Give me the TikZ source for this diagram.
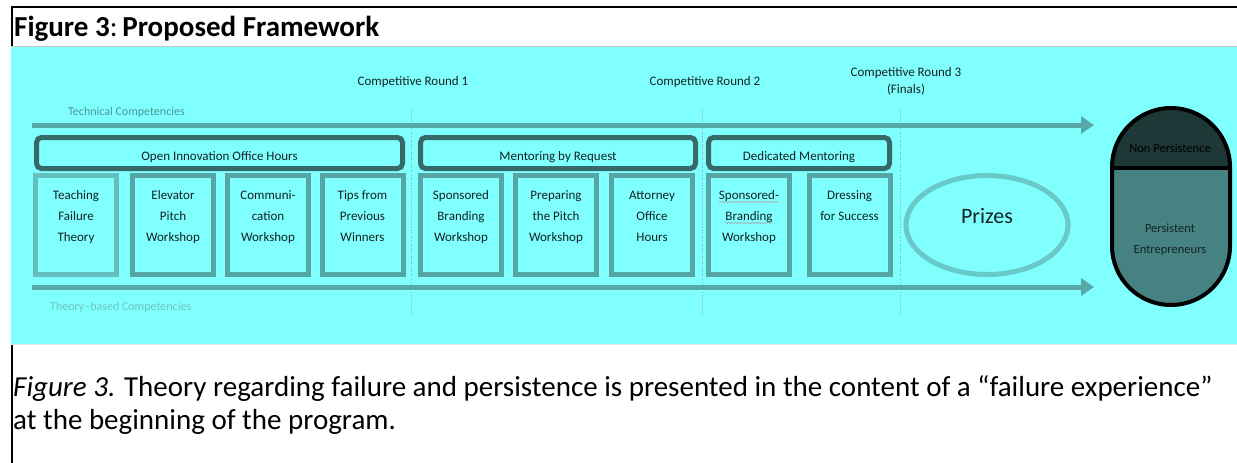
\documentclass[tikz,border=0pt]{standalone}
\usepackage{fontspec}
\setmainfont{Carlito}
\usetikzlibrary{arrows.meta,decorations.pathmorphing,shapes.geometric}
\definecolor{bgcyan}{RGB}{128,255,255}
\definecolor{arrowc}{RGB}{88,168,168}
\definecolor{hdrc}{RGB}{55,105,105}
\definecolor{boxc}{RGB}{85,165,165}
\definecolor{boxlc}{RGB}{100,190,190}
\definecolor{ellc}{RGB}{105,200,200}
\definecolor{techc}{RGB}{80,150,150}
\definecolor{theoc}{RGB}{110,195,195}
\definecolor{capdark}{RGB}{30,55,55}
\definecolor{capmid}{RGB}{70,130,130}
\definecolor{txtc}{RGB}{20,35,35}
\definecolor{vlinec}{RGB}{140,170,170}
\tikzset{
  hdrbox/.style={draw=hdrc, line width=5pt, rounded corners=5pt, fill=bgcyan, minimum height=31pt, inner sep=0pt},
  hdrtxt/.style={font=\fontsize{13}{16}\selectfont, text=txtc, inner sep=0pt},
  actbox/.style={draw=boxc, line width=5pt, fill=bgcyan, minimum width=81pt, minimum height=99pt, inner sep=0pt},
  acttxt/.style={font=\fontsize{13}{21}\selectfont, text=txtc, align=center, anchor=north, inner sep=0pt},
  roundtxt/.style={font=\fontsize{13}{17}\selectfont, text=txtc, align=center, inner sep=0pt},
  flowarrow/.style={draw=arrowc, line width=5pt, -{Triangle[length=13pt,width=17pt]}},
  vline/.style={draw=vlinec, line width=0.6pt, dotted},
  squig/.style={draw=gray!70, line width=0.5pt, decorate, decoration={snake, amplitude=0.7pt, segment length=3pt}}
}
\begin{document}
\begin{tikzpicture}[x=1pt,y=-1pt]
\useasboundingbox (0,0) rectangle (1237,463);
% frame lines
\draw[black, line width=2pt] (12,463) -- (12,7) -- (1237,7);
% cyan panel
\fill[bgcyan] (11,46) rectangle (1237,344);
\draw[gray!45, line width=1pt] (11,46) -- (1237,46);
\draw[gray!20, line width=1pt] (11,344.5) -- (1237,344.5);
% title
\node[anchor=base west, inner sep=0pt, font=\fontsize{29}{31}\selectfont] (title) at (14,36) {\textbf{Figure 3}:\,\textbf{Proposed Framework}};
% round labels
\node[roundtxt] (r1) at (413,82) {Competitive Round 1};
\node[roundtxt] (r2) at (705,82) {Competitive Round 2};
\node[roundtxt] (r3) at (906,81) {Competitive Round 3\\(Finals)};
% dotted separators
\coordinate (v1a) at (411.5,110); \coordinate (v1b) at (411.5,315);
\coordinate (v2a) at (702.5,110); \coordinate (v2b) at (702.5,315);
\coordinate (v3a) at (900,110); \coordinate (v3b) at (900,315);
\draw[vline] (v1a) -- (v1b);
\draw[vline] (v2a) -- (v2b);
\draw[vline] (v3a) -- (v3b);
% competency arrows
\node[anchor=west, inner sep=0pt, font=\fontsize{12}{14}\selectfont, text=techc] (tech) at (68,112) {Technical Competencies};
\node[anchor=west, inner sep=0pt, font=\fontsize{12}{14}\selectfont, text=theoc] (theo) at (50,307) {Theory--based Competencies};
\coordinate (ta) at (32,125); \coordinate (tb) at (1094,125);
\coordinate (ba) at (32,287); \coordinate (bb) at (1094,287);
\draw[flowarrow] (ta) -- (tb);
\draw[flowarrow] (ba) -- (bb);
% headers
\node[hdrbox, minimum width=366pt] (h1) at (219.5,153) {};
\node[hdrbox, minimum width=275pt] (h2) at (558,153) {};
\node[hdrbox, minimum width=181pt] (h3) at (799,153) {};
\node[hdrtxt] (h1t) at (219.5,157) {Open Innovation Office Hours};
\node[hdrtxt] (h2t) at (558,157) {Mentoring by Request};
\node[hdrtxt] (h3t) at (799,157) {Dedicated Mentoring};
% activity boxes
\node[actbox, draw=boxlc] (b1) at (76,225) {};
\node[actbox] (b2) at (173,225) {};
\node[actbox] (b3) at (268,225) {};
\node[actbox] (b4) at (362.5,225) {};
\node[actbox] (b5) at (461,225) {};
\node[actbox] (b6) at (556,225) {};
\node[actbox] (b7) at (652,225) {};
\node[actbox] (b8) at (749,225) {};
\node[actbox] (b9) at (849.5,225) {};
\node[acttxt] (t1) at (76,184.8) {\strut Teaching\\Failure\\Theory};
\node[acttxt] (t2) at (173,184.8) {\strut Elevator\\Pitch\\Workshop};
\node[acttxt] (t3) at (268,184.8) {\strut Communi-\\cation\\Workshop};
\node[acttxt] (t4) at (362.5,184.8) {\strut Tips from\\Previous\\Winners};
\node[acttxt] (t5) at (461,184.8) {\strut Sponsored\\Branding\\Workshop};
\node[acttxt] (t6) at (556,184.8) {\strut Preparing\\the Pitch\\Workshop};
\node[acttxt] (t7) at (652,184.8) {\strut Attorney\\Office\\Hours};
\node[acttxt] (t8) at (749,184.8) {\strut Sponsored-\\Branding\\Workshop};
\node[acttxt] (t9) at (849.5,184.8) {\strut Dressing\\for Success};
% spell-check squiggles
\coordinate (s1a) at (719,202); \coordinate (s1b) at (779,202);
\coordinate (s2a) at (725,223); \coordinate (s2b) at (773,223);
\draw[squig] (s1a) -- (s1b);
\draw[squig] (s2a) -- (s2b);
% prizes
\node[draw=ellc, line width=5pt, ellipse, minimum width=162pt, minimum height=99pt, inner sep=0pt] (prz) at (987,225) {};
\node[inner sep=0pt, font=\fontsize{22}{24}\selectfont, text=txtc] (przt) at (987,216) {Prizes};
% capsule
\fill[capmid] (1112,167) -- (1112,246) arc[start angle=180, end angle=360, radius=59pt] -- (1230,167) -- cycle;
\fill[capdark] (1112,168) arc[start angle=180, end angle=0, radius=59pt] -- cycle;
\draw[black, line width=4pt] (1112,167) -- (1112,246) arc[start angle=180, end angle=360, radius=59pt] -- (1230,167) arc[start angle=0, end angle=180, radius=59pt] -- cycle;
\draw[black, line width=4pt] (1112,168) -- (1230,168);
\node[inner sep=0pt, font=\fontsize{12.5}{14}\selectfont, text=black] (np) at (1170,148) {Non Persistence};
\node[inner sep=0pt, font=\fontsize{12.5}{21}\selectfont, text=txtc, align=center] (pe) at (1170,239.5) {Persistent\\Entrepreneurs};
% caption
\node[anchor=base west, inner sep=0pt, font=\fontsize{29}{31}\selectfont] (cap1) at (13,396) {\textit{Figure 3.} Theory regarding failure and persistence is presented in the content of a “failure experience”};
\node[anchor=base west, inner sep=0pt, font=\fontsize{29}{31}\selectfont] (cap2) at (13,429) {at the beginning of the program.};
\end{tikzpicture}
\end{document}
